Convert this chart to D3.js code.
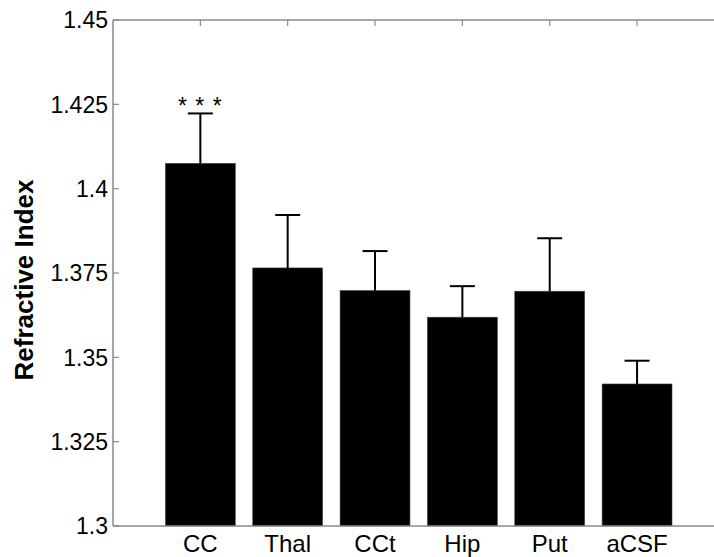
<!DOCTYPE html>
<html>
<head>
<meta charset="utf-8">
<script src="https://cdn.jsdelivr.net/npm/d3@7"></script>
<style>
  html, body { margin: 0; padding: 0; background: #fff; }
  svg { display: block; }
</style>
</head>
<body>
<svg id="chart" width="714" height="557"></svg>
<script>
const categories = ["CC", "Thal", "CCt", "Hip", "Put", "aCSF"];
const means = [1.4075, 1.3765, 1.3698, 1.3619, 1.3696, 1.3421];
const errors = [0.0148, 0.0157, 0.0117, 0.0092, 0.0157, 0.0069];
const yTicks = [1.3, 1.325, 1.35, 1.375, 1.4, 1.425, 1.45];
const yTickLabels = ["1.3", "1.325", "1.35", "1.375", "1.4", "1.425", "1.45"];
const significance = ["* * *", "", "", "", "", ""];
const yLabel = "Refractive Index";

(function () {
const svg = d3.select("#chart");
const mLeft = 113, mRight = 724.4, mTop = 20, mBottom = 526;
const font = "'Liberation Sans', Arial, sans-serif";
const axisColor = "#8a8a8a";

const x = d3.scaleLinear().domain([0, categories.length + 1]).range([mLeft, mRight]);
const y = d3.scaleLinear().domain([1.3, 1.45]).range([mBottom, mTop]);
const step = x(1) - x(0);
const barW = step * 0.8;
const capW = 25;

// bottom ticks (under bars)
svg.append("g").selectAll("line").data(categories).join("line")
  .attr("x1", (d, i) => x(i + 1)).attr("x2", (d, i) => x(i + 1))
  .attr("y1", mBottom).attr("y2", mBottom - 6)
  .attr("stroke", axisColor).attr("stroke-width", 1);

// bars
svg.append("g").selectAll("rect").data(means).join("rect")
  .attr("x", (d, i) => x(i + 1) - barW / 2)
  .attr("y", d => y(d))
  .attr("width", barW)
  .attr("height", d => y(1.3) - y(d))
  .attr("fill", "#000")
  .attr("stroke", "#444").attr("stroke-width", 0.6);

// error bars
const eg = svg.append("g").attr("stroke", "#000").attr("stroke-width", 2);
means.forEach((m, i) => {
  const cx = x(i + 1);
  eg.append("line").attr("x1", cx).attr("x2", cx).attr("y1", y(m)).attr("y2", y(m + errors[i]));
  eg.append("line").attr("x1", cx - capW / 2).attr("x2", cx + capW / 2)
    .attr("y1", y(m + errors[i])).attr("y2", y(m + errors[i]));
});

// significance
svg.append("g").selectAll("text").data(significance).join("text")
  .attr("x", (d, i) => x(i + 1))
  .attr("y", (d, i) => y(means[i] + errors[i]) + 1)
  .attr("text-anchor", "middle")
  .attr("font-family", font).attr("font-size", 23)
  .attr("letter-spacing", "1px")
  .attr("fill", "#000")
  .text(d => d);

// axes lines
const ax = svg.append("g").attr("stroke", axisColor).attr("stroke-width", 1.5).attr("fill", "none");
ax.append("line").attr("x1", mLeft).attr("x2", mLeft).attr("y1", mTop).attr("y2", mBottom);
ax.append("line").attr("x1", mLeft).attr("x2", mRight).attr("y1", mBottom).attr("y2", mBottom);
ax.append("line").attr("x1", mLeft).attr("x2", mRight).attr("y1", mTop).attr("y2", mTop);
ax.append("line").attr("x1", mRight).attr("x2", mRight).attr("y1", mTop).attr("y2", mBottom);

// y ticks
svg.append("g").selectAll("line").data(yTicks).join("line")
  .attr("x1", mLeft).attr("x2", mLeft + 6)
  .attr("y1", d => y(d)).attr("y2", d => y(d))
  .attr("stroke", axisColor).attr("stroke-width", 1.2);

// top ticks
svg.append("g").selectAll("line").data(categories).join("line")
  .attr("x1", (d, i) => x(i + 1)).attr("x2", (d, i) => x(i + 1))
  .attr("y1", mTop).attr("y2", mTop + 6)
  .attr("stroke", axisColor).attr("stroke-width", 1.2);

// y tick labels
svg.append("g").selectAll("text").data(yTicks).join("text")
  .attr("x", mLeft - 5)
  .attr("y", d => y(d))
  .attr("dy", "0.36em")
  .attr("text-anchor", "end")
  .attr("font-family", font).attr("font-size", 23)
  .attr("fill", "#000")
  .text((d, i) => yTickLabels[i]);

// x labels
svg.append("g").selectAll("text").data(categories).join("text")
  .attr("x", (d, i) => x(i + 1))
  .attr("y", 552)
  .attr("text-anchor", "middle")
  .attr("font-family", font).attr("font-size", 24)
  .attr("fill", "#000")
  .text(d => d);

// y label
svg.append("text")
  .attr("transform", "translate(33,280) rotate(-90)")
  .attr("text-anchor", "middle")
  .attr("font-family", font).attr("font-size", 26).attr("font-weight", "bold")
  .attr("fill", "#000")
  .text(yLabel);
})();
</script>
</body>
</html>
